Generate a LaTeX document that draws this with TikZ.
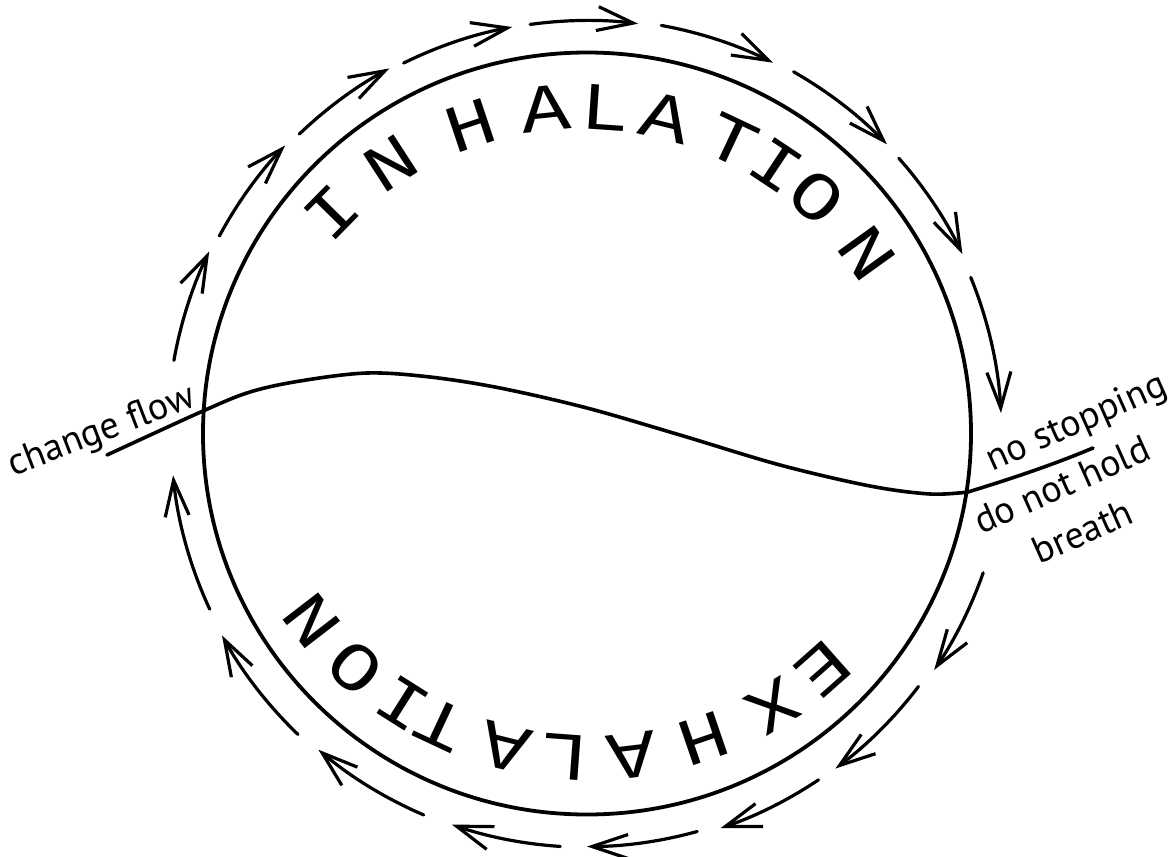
\documentclass[tikz,border=0pt]{standalone}
\usepackage{fontspec}
\setmainfont{PT Sans}
\newfontfamily\letterfont[FakeStretch=1.2]{Liberation Mono}
\usetikzlibrary{arrows.meta}
\begin{document}
\begin{tikzpicture}[x=1bp,y=1bp,
  ring/.style={line width=3.8bp},
  flowarrow/.style={line width=3.2bp, line cap=round, -{Straight Barb[length=36bp,width=24bp,line width=3.2bp]}},
  bigletter/.style={font=\letterfont\fontsize{68bp}{68bp}\selectfont, inner sep=0pt},
  lbl/.style={font=\fontsize{38bp}{51bp}\selectfont, inner sep=0pt, align=center},
  wave/.style={line width=3.6bp, line cap=round, line join=round}
]
\useasboundingbox (0,0) rectangle (1176,-857);
\fill[white] (0,0) rectangle (1176,-857);
\coordinate (C) at (587,-434);
% main circle
\draw[ring] (587,-433.5) ellipse[x radius=384, y radius=381];
% outer flow arrows
\begin{scope}[shift={(C)}]
\foreach \s/\e/\r in {169.9/154.2/419.6, 151.7/136.3/417.6, 133.8/118.4/415.6,
  116.3/100.4/413.8, 97.9/82.9/413.5, 79.7/63.4/415.3, 60.3/44.0/417,
  41.5/25.6/416.3, 22.2/2.9/414.5, -19.3/-34.2/419.8, -37.3/-53.4/416.7,
  -56.2/-71.3/416.2, -74.5/-90/412.5, -93.7/-109.1/413.3, -113.2/-130.4/414.5,
  -133.9/-151.1/416.9, -155.1/-174.3/416}
  \draw[flowarrow] (\s:\r) arc[start angle=\s, end angle=\e, radius=\r];
\end{scope}
% INHALATION
\begin{scope}[shift={(582,-458)}]
\foreach \a/\l [count=\k] in {135.5/I,122.9/N,108.5/H,96.0/A,86.1/L,76.2/A,64.7/T,56.4/I,48.0/O,35.7/N}
  \node[bigletter, rotate=\a-90] (in\k) at (\a:351) {\l};
\end{scope}
% EXHALATION
\begin{scope}[shift={(590,-407)}]
\foreach \a/\l [count=\k] in {-48.5/E,-58.6/X,-71.1/H,-83.1/A,-94.2/L,-104.0/A,-115.1/T,-122.3/I,-132.0/O,-142.4/N}
  \node[bigletter, rotate=\a-90] (ex\k) at (\a:351) {\l};
\end{scope}
% dividing wave
\coordinate (wl) at (107,-455);
\coordinate (wr) at (968,-492);
\coordinate (ur) at (1093,-448);
\draw[wave] plot[smooth, tension=0.55] coordinates {(107,-455) (203,-411) (250,-392) (300,-381) (367,-373) (430,-377) (500,-388) (587,-408) (680,-435) (780,-465) (870,-486) (930,-494) (968,-492)};
\draw[wave] (wr) .. controls (1010,-479) and (1050,-466) .. (ur);
% labels
\node[lbl, rotate=21] (cf) at (102,-432) {change flow};
\node[lbl, rotate=24] (ns) at (1077,-424) {no stopping};
\node[lbl, rotate=24] (dn) at (1072,-508) {do not hold\\breath};
\end{tikzpicture}
\end{document}
